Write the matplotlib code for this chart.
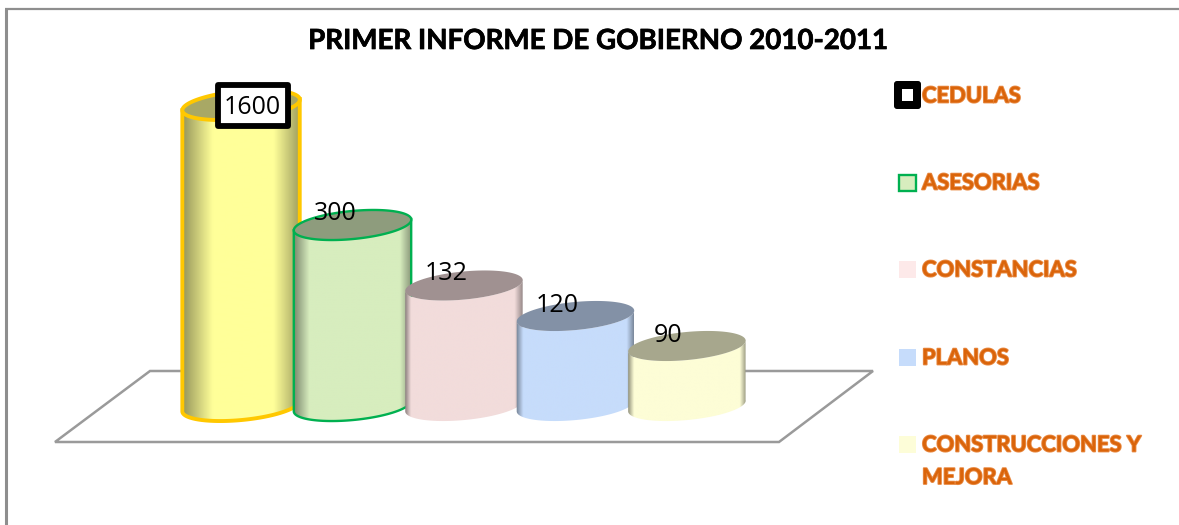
import numpy as np
import matplotlib
matplotlib.use("Agg")
import matplotlib.pyplot as plt
from matplotlib.patches import Polygon, Rectangle, FancyBboxPatch
from matplotlib.colors import to_rgb
import matplotlib.patheffects as pe

title = "PRIMER INFORME DE GOBIERNO 2010-2011"
categories = ["CEDULAS", "ASESORIAS", "CONSTANCIAS", "PLANOS", "CONSTRUCCIONES Y\nMEJORA"]
values = [1600, 300, 132, 120, 90]
fills = ["#FFFF99", "#D7EDBE", "#F2DCDB", "#C6DCFB", "#FDFDD6"]
edges = ["#FFC800", "#00B050", None, None, None]

W, H = 1179, 525
fig = plt.figure(figsize=(W / 100, H / 100), dpi=100, facecolor="white")
px = fig.add_axes([0, 0, 1, 1])
px.set_xlim(0, W); px.set_ylim(H, 0); px.axis("off")

# value axis: the chart's compressed 3-D value scale
scale_v = np.array([0, 90, 120, 132, 300, 1600, 2000], float)
scale_h = np.array([0, 60, 90, 120.5, 181, 301, 341], float)
ax = fig.add_axes([182 / W, (H - 406) / H, 564 / W, 341 / H], facecolor="none")
ax.set_yscale("function", functions=(lambda v: np.interp(v, scale_v, scale_h),
                                     lambda h: np.interp(h, scale_h, scale_v)))
ax.set_ylim(0, 2000)
ax.set_xlim(-0.53, 4.53)
ax.axis("off")

A, B = 59, 14
TILT = np.radians(-5.5)


def to_px(x, v):
    p = ax.transData.transform((x, v))
    return p[0], H - p[1]


def arc(cx, cy, s):
    return (cx + A * np.cos(s) * np.cos(TILT) - B * np.sin(s) * np.sin(TILT),
            cy + A * np.cos(s) * np.sin(TILT) + B * np.sin(s) * np.cos(TILT))


# frame (top and left edges only) and floor
px.plot([5.5, 5.5], [H, 8.5], color="#8E8E8E", lw=2.2, zorder=1, solid_capstyle="butt")
px.plot([4.5, W], [8.5, 8.5], color="#8E8E8E", lw=1.6, zorder=1, solid_capstyle="butt")
px.add_patch(Polygon([(55, 442), (779, 442), (873, 371), (150, 371)], closed=True,
                     fc="white", ec="#9A9A9A", lw=1.8, zorder=2))

# per-bar width of the dark side shading, as a share of the bar width
shade_l = [0.26, 0.13, 0.05, 0.06, 0.05]
shade_r = [0.22, 0.10, 0.07, 0.06, 0.05]
for i, (val, fc, ec) in enumerate(zip(values, fills, edges)):
    z = 10 + i
    cx, cy_top = to_px(i, val)
    _, cy_bot = to_px(i, 0)
    s = np.linspace(-0.03, np.pi + 0.03, 100)
    lx, ly = arc(cx, cy_bot, s)
    ux, uy = arc(cx, cy_top, s[::-1])
    body = Polygon(np.column_stack([np.r_[lx, ux], np.r_[ly, uy]]), closed=True,
                   fc="none", ec="none", zorder=z)
    px.add_patch(body)
    # horizontal cylinder shading
    u = np.linspace(0, 1, 256)
    shade = np.ones_like(u)
    shade = np.minimum(shade, 0.58 + u / shade_l[i] * 0.42)
    shade = np.minimum(shade, 0.62 + (1 - u) / shade_r[i] * 0.38)
    rgb = np.outer(shade, to_rgb(fc))[None, :, :]
    im = px.imshow(rgb, extent=[cx - A, cx + A, cy_bot + 20, cy_top - 20],
                   aspect="auto", zorder=z, interpolation="bilinear")
    im.set_clip_path(body)
    ex, ey = arc(cx, cy_top, np.linspace(0, 2 * np.pi, 200))
    cap = tuple(c * 0.66 for c in to_rgb(fc))
    if ec is not None:
        lw = 2.8 if i == 0 else 1.7
        px.plot(np.r_[ux[-1], lx, ux[0]], np.r_[uy[-1], ly, uy[0]],
                color=ec, lw=lw, zorder=z + 0.2, solid_joinstyle="round")
        px.fill(ex, ey, fc=cap, ec=ec, lw=lw, zorder=z + 0.3)
    else:
        px.fill(ex, ey, fc=cap, ec="none", zorder=z + 0.3)

# data labels
label_pos = [(252, 107), (335, 213), (446, 274), (557, 305), (668, 335)]
px.add_patch(Rectangle((217.5, 84.5), 70, 41, fc="white", ec="black", lw=4.2, zorder=29,
                       joinstyle="round"))
for val, (tx, ty) in zip(values, label_pos):
    px.text(tx, ty, str(val), fontsize=18, family="Open Sans", ha="center", va="center", zorder=30)

# title
px.text(599, 41, title, fontsize=19.95, fontweight="bold", family="Lato", ha="center",
        va="center", color="black", zorder=30,
        path_effects=[pe.withStroke(linewidth=0.5, foreground="black")])

# legend
leg_y = [95, 182, 269, 357, 444]
leg_fc = ["white", fills[1], "#FDE9E9", "#C6DCFB", "#FDFDD8"]
for i, (name, fc, y) in enumerate(zip(categories, leg_fc, leg_y)):
    if i == 0:
        px.add_patch(FancyBboxPatch((894, 81), 27, 28, boxstyle="round,pad=0,rounding_size=3",
                                    fc="black", ec="none", zorder=20))
        px.add_patch(Rectangle((902, 89), 11, 12, fc=fc, ec="none", zorder=21))
    elif i == 1:
        px.add_patch(Rectangle((899, 175), 17, 16, fc=fc, ec="#00B050", lw=1.7, zorder=20))
    else:
        px.add_patch(Rectangle((899, y - 8), 17, 17, fc=fc, ec="none", zorder=20))
    for k, line in enumerate(name.split("\n")):
        px.text(922, y + 1 + k * 32.5, line, fontsize=15.8, fontweight="bold", family="Lato",
                ha="left", va="center", color="#DA640A", zorder=22,
                path_effects=[pe.withStroke(linewidth=1.3, foreground="#E98B45")])

fig.savefig("out.png", dpi=100, facecolor="white")
